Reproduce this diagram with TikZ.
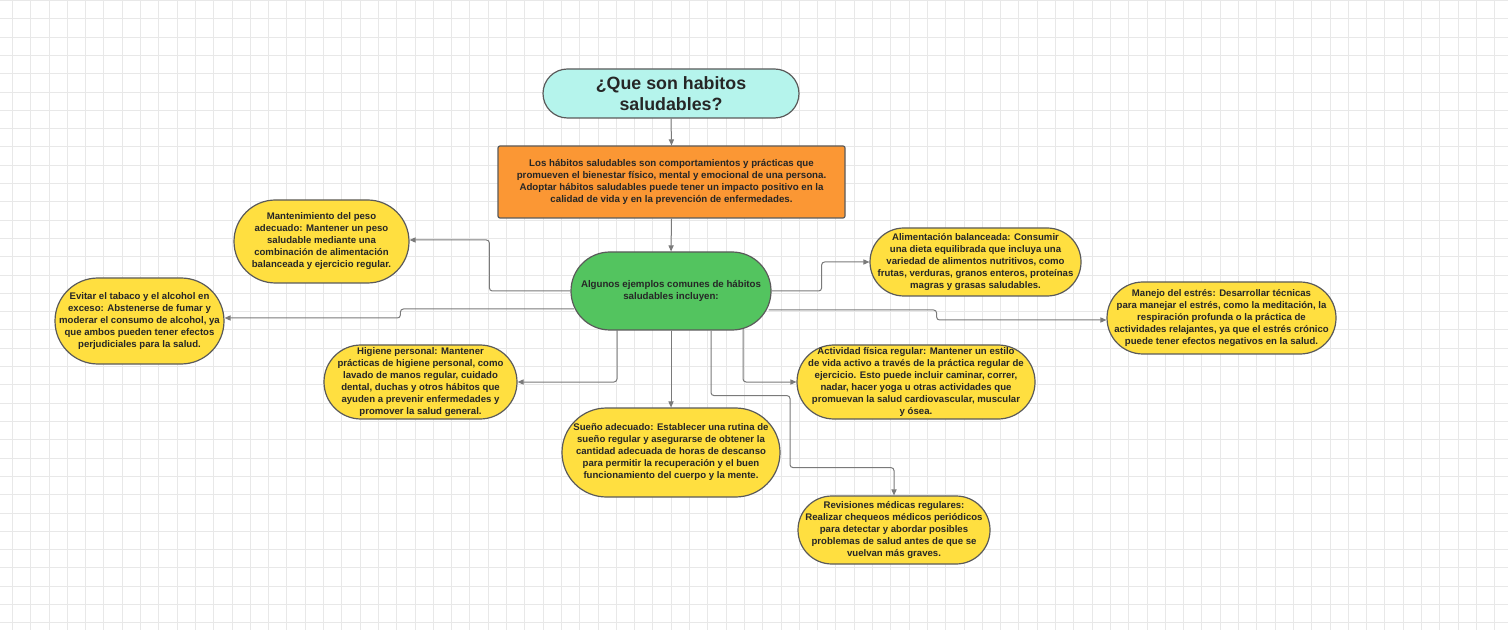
\documentclass[tikz,border=0pt]{standalone}
\usepackage{fontspec}
\setmainfont{Liberation Sans}
\usetikzlibrary{arrows.meta,calc}
\definecolor{cyanbox}{HTML}{B5F4EC}
\definecolor{orangebox}{HTML}{FB9734}
\definecolor{greenbox}{HTML}{53C45F}
\definecolor{yellowbox}{HTML}{FFDF40}
\definecolor{edgecol}{HTML}{5A5A5A}
\definecolor{conncol}{HTML}{7A7A7A}
\definecolor{gridcol}{HTML}{E8E8E8}
\definecolor{txtcol}{HTML}{262626}
\tikzset{
  box/.style={draw=edgecol, line width=0.6pt, align=center, inner sep=1pt,
    font=\fontsize{4.8}{6}\selectfont\bfseries, text=txtcol},
  pill/.style n args={3}{box, fill=#1, minimum width=#2*0.5pt, minimum height=#3*0.5pt,
    rounded corners=#3*0.25pt-0.01pt},
  conn/.style={draw=conncol, line width=0.5pt, rounded corners=1.5pt,
    -{Triangle[length=3pt,width=2.6pt]}},
}
\begin{document}
\begin{tikzpicture}[x=0.5pt,y=-0.5pt]
\useasboundingbox (0,0) rectangle (1508,630);
\fill[white] (0,0) rectangle (1508,630);
\foreach \i in {0,...,82} {
  \draw[gridcol, line width=0.4pt] (12.3+\i*18.3,0) -- (12.3+\i*18.3,630);
}
\foreach \j in {0,...,34} {
  \draw[gridcol, line width=0.4pt] (0,0.5+\j*18.3) -- (1508,0.5+\j*18.3);
}

\node[pill={cyanbox}{256}{49}, font=\fontsize{8.9}{10.8}\selectfont\bfseries] (title) at (671,93.5)
  {¿Que son habitos\\saludables?};
\node[box, fill=orangebox, minimum width=173.5pt, minimum height=36pt, rounded corners=1pt, font=\fontsize{4.85}{6}\selectfont\bfseries] (orange) at (671.5,182)
  {Los hábitos saludables son comportamientos y prácticas que\\promueven el bienestar físico, mental y emocional de una persona.\\Adoptar hábitos saludables puede tener un impacto positivo en la\\calidad de vida y en la prevención de enfermedades.};
\node[pill={greenbox}{200}{78}, font=\fontsize{4.85}{6}\selectfont\bfseries] (green) at (671,291)
  {Algunos ejemplos comunes de hábitos\\saludables incluyen:};

\node[pill={yellowbox}{175}{83}] (peso) at (321.5,241.5)
  {Mantenimiento del peso\\adecuado: Mantener un peso\\saludable mediante una\\combinación de alimentación\\balanceada y ejercicio regular.};
\node[pill={yellowbox}{169}{86}] (tabaco) at (139.5,321)
  {Evitar el tabaco y el alcohol en\\exceso: Abstenerse de fumar y\\moderar el consumo de alcohol, ya\\que ambos pueden tener efectos\\perjudiciales para la salud.};
\node[pill={yellowbox}{211}{68}] (alim) at (975.5,262)
  {Alimentación balanceada: Consumir\\una dieta equilibrada que incluya una\\variedad de alimentos nutritivos, como\\frutas, verduras, granos enteros, proteínas\\magras y grasas saludables.};
\node[pill={yellowbox}{229}{72}] (manejo) at (1221.5,318)
  {Manejo del estrés: Desarrollar técnicas\\para manejar el estrés, como la meditación, la\\respiración profunda o la práctica de\\actividades relajantes, ya que el estrés crónico\\puede tener efectos negativos en la salud.};
\node[pill={yellowbox}{193}{74}] (higiene) at (420.5,382)
  {Higiene personal: Mantener\\prácticas de higiene personal, como\\lavado de manos regular, cuidado\\dental, duchas y otros hábitos que\\ayuden a prevenir enfermedades y\\promover la salud general.};
\node[pill={yellowbox}{238}{74}] (actividad) at (916,382)
  {Actividad física regular: Mantener un estilo\\de vida activo a través de la práctica regular de\\ejercicio. Esto puede incluir caminar, correr,\\nadar, hacer yoga u otras actividades que\\promuevan la salud cardiovascular, muscular\\y ósea.};
\node[pill={yellowbox}{218}{89}] (sueno) at (671,452.5)
  {Sueño adecuado: Establecer una rutina de\\sueño regular y asegurarse de obtener la\\cantidad adecuada de horas de descanso\\para permitir la recuperación y el buen\\funcionamiento del cuerpo y la mente.};
\node[pill={yellowbox}{192}{68}] (revis) at (894,530)
  {Revisiones médicas regulares:\\Realizar chequeos médicos periódicos\\para detectar y abordar posibles\\problemas de salud antes de que se\\vuelvan más graves.};

\draw[conn] (title.south) -- (orange.north);
\draw[conn] (orange.south) -- (green.north);
\draw[conn] (green.west) -- ++(-81,0) |- ($(peso.east)+(0,-1.5)$);
\draw[conn] ($(green.west)+(4,18)$) -- ++(-174,0) |- ($(tabaco.east)+(0,-3)$);
\draw[conn] (green.east) -- ++(50,0) |- (alim.west);
\draw[conn] ($(green.east)+(-3,19)$) -- ++(168,0) |- ($(manejo.west)+(0,2)$);
\draw[conn] ($(green.south)+(-54,-0.5)$) |- (higiene.east);
\draw[conn] (green.south) -- (sueno.north);
\draw[conn] ($(green.south)+(72,-1.5)$) |- (actividad.west);
\draw[conn] ($(green.south)+(40,0)$) -- ++(0,65) -- ++(79,0) -- ++(0,72) -| (revis.north);
\end{tikzpicture}
\end{document}
